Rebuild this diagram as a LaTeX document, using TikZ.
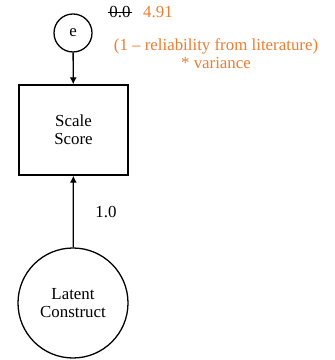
\documentclass[tikz,border=0pt]{standalone}
\usepackage{fontspec}
\setmainfont{Liberation Serif}
\usetikzlibrary{arrows.meta}
\definecolor{litorange}{RGB}{237,125,49}
\tikzset{
  every node/.style={font=\rmfamily\fontsize{14.4}{15.5}\selectfont, align=center},
  latent/.style={draw, circle, line width=1.1pt, inner sep=0pt},
  observed/.style={draw, rectangle, line width=1.1pt, minimum width=3.27cm, minimum height=2.7cm},
  path/.style={line width=1.1pt, -{Latex[length=6pt,width=6pt]}},
}
\begin{document}
\begin{tikzpicture}
  \useasboundingbox (0,0) rectangle (10.02,10.8);
  \node[latent, minimum size=1.14cm] (e) at (2.19,9.81) {e};
  \node[observed] (score) at (2.205,6.9) {Scale\\Score};
  \node[latent, minimum size=3.3cm] (construct) at (2.19,1.71) {Latent\\Construct};

  \draw[path] (e) -- (score);
  \draw[path] (construct) -- (score);

  \node[] (load) at (3.18,4.44) {1.0};
  \node[] (fixed) at (3.6,10.44) {0.0};
  \draw[] ([xshift=2pt]fixed.west) -- ([xshift=-2pt]fixed.east);
  \node[text=litorange] (errvar) at (4.74,10.44) {4.91};
  \node[text=litorange] (note) at (6.48,9.2) {(1 – reliability from literature)\\* variance};
\end{tikzpicture}
\end{document}
